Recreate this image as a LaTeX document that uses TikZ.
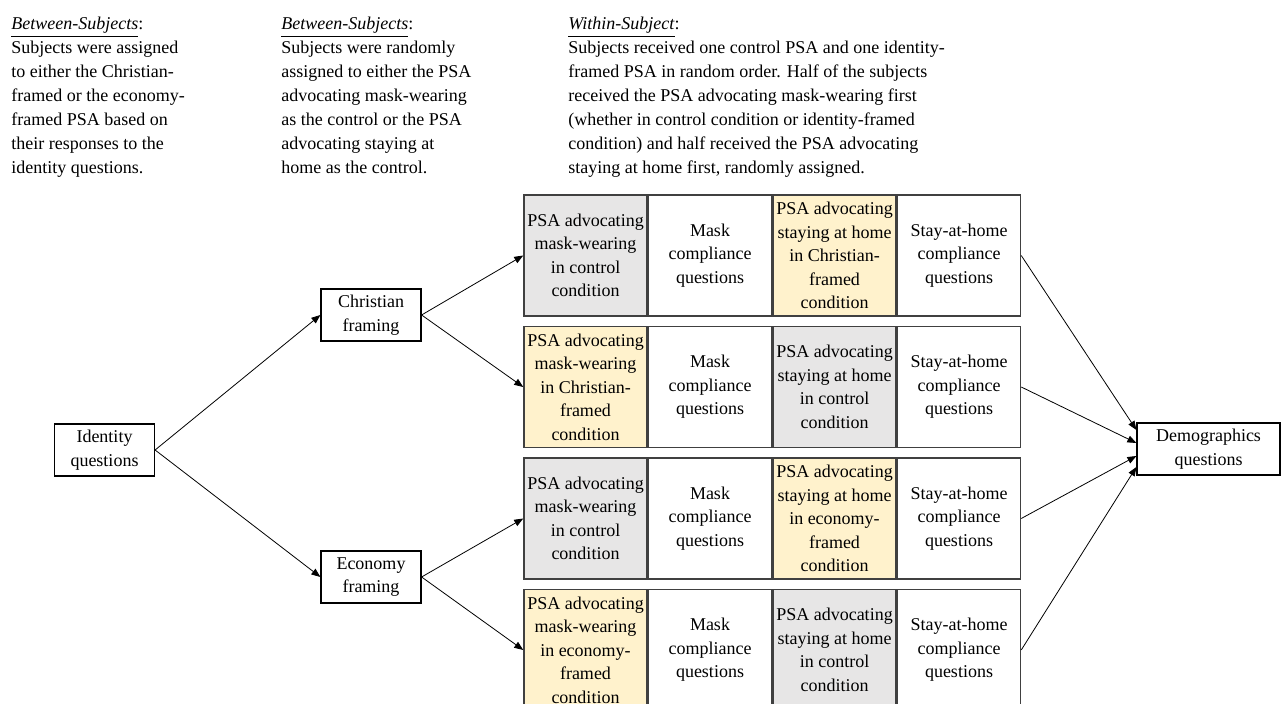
\documentclass[tikz,border=0pt]{standalone}
\usepackage{fontspec}
\setmainfont{Liberation Serif}
\usetikzlibrary{arrows.meta,positioning}

\definecolor{ctrlgray}{HTML}{E7E6E6}
\definecolor{framedgold}{HTML}{FFF2CC}

\begin{document}
\begin{tikzpicture}[x=0.5pt,y=-0.5pt,node distance=0pt,>={Triangle[length=4.5pt,width=3.5pt]},
  every node/.style={font=\fontsize{9}{11.75}\selectfont},
  box/.style={draw,line width=0.6pt,minimum width=50pt,minimum height=26pt,align=center,inner sep=1pt},
  cell/.style={draw=black!75,line width=0.75pt,minimum width=61.5pt,minimum height=60.5pt,align=center,inner sep=0pt},
  ctrl/.style={cell,fill=ctrlgray},
  framed/.style={cell,fill=framedgold},
  note/.style={align=left,anchor=north west,inner sep=0pt,font=\fontsize{9}{12}\selectfont}]
\useasboundingbox (0,0) rectangle (1281,704);

\node[note] (betw) at (11,17) {\underline{\textit{Between-Subjects}}:\\Subjects were assigned\\to either the Christian-\\framed or the economy-\\framed PSA based on\\their responses to the\\identity questions.};
\node[note] (rand) at (281,17) {\underline{\textit{Between-Subjects}}:\\Subjects were randomly\\assigned to either the PSA\\advocating mask-wearing\\as the control or the PSA\\advocating staying at\\home as the control.};
\node[note] (within) at (568,17) {\underline{\textit{Within-Subject}}:\\Subjects received one control PSA and one identity-\\framed PSA in random order. Half of the subjects\\received the PSA advocating mask-wearing first\\(whether in control condition or identity-framed\\condition) and half received the PSA advocating\\staying at home first, randomly assigned.};

\node[box] (ident) at (104.5,450) {Identity\\questions};
\node[box] (christ) at (371,315) {Christian\\framing};
\node[box] (econ) at (371,577) {Economy\\framing};
\node[box,minimum width=71.5pt] (demo) at (1208.5,449) {Demographics\\questions};

% Christian-framed rows
\node[ctrl] (r1a) at (585.5,255.5) {PSA advocating\\mask-wearing\\in control\\condition};
\node[cell,right=of r1a] (r1b) {Mask\\compliance\\questions};
\node[framed,right=of r1b] (r1c) {PSA advocating\\staying at home\\in Christian-\\framed\\condition};
\node[cell,right=of r1c] (r1d) {Stay-at-home\\compliance\\questions};

\node[framed,below=4.5pt of r1a] (r2a) {PSA advocating\\mask-wearing\\in Christian-\\framed\\condition};
\node[cell,right=of r2a] (r2b) {Mask\\compliance\\questions};
\node[ctrl,right=of r2b] (r2c) {PSA advocating\\staying at home\\in control\\condition};
\node[cell,right=of r2c] (r2d) {Stay-at-home\\compliance\\questions};

% economy-framed rows
\node[ctrl,below=4.5pt of r2a] (r3a) {PSA advocating\\mask-wearing\\in control\\condition};
\node[cell,right=of r3a] (r3b) {Mask\\compliance\\questions};
\node[framed,right=of r3b] (r3c) {PSA advocating\\staying at home\\in economy-\\framed\\condition};
\node[cell,right=of r3c] (r3d) {Stay-at-home\\compliance\\questions};

\node[framed,below=4.5pt of r3a] (r4a) {PSA advocating\\mask-wearing\\in economy-\\framed\\condition};
\node[cell,right=of r4a] (r4b) {Mask\\compliance\\questions};
\node[ctrl,right=of r4b] (r4c) {PSA advocating\\staying at home\\in control\\condition};
\node[cell,right=of r4c] (r4d) {Stay-at-home\\compliance\\questions};

\draw[->] (ident.east) -- (christ.west);
\draw[->] (ident.east) -- (econ.west);
\draw[->] (christ.east) -- (r1a.west);
\draw[->] (christ.east) -- (r2a.west);
\draw[->] (econ.east) -- (r3a.west);
\draw[->] (econ.east) -- (r4a.west);
\draw[->] (r1d.east) -- ([yshift=9.5pt]demo.west);
\draw[->] (r2d.east) -- ([yshift=3pt]demo.west);
\draw[->] (r3d.east) -- ([yshift=-3.5pt]demo.west);
\draw[->] (r4d.east) -- ([yshift=-9pt]demo.west);
\end{tikzpicture}
\end{document}
